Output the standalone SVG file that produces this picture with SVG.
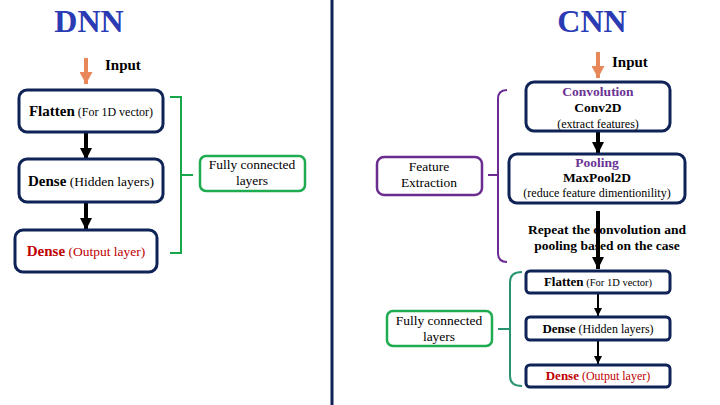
<svg xmlns="http://www.w3.org/2000/svg" width="720" height="405" viewBox="0 0 720 405">
<style>
text{font-family:"Liberation Serif","DejaVu Serif","Noto Serif",serif;fill:#000}
.title{font-size:32px;font-weight:bold;fill:#2a3bb4}
.b{font-weight:bold}
.box{fill:#fff;stroke:#0f2356;stroke-width:3}
.red{fill:#c00000}
.pur{fill:#6b3494;font-weight:bold}
.blk{stroke:#000;fill:none}
</style>
<defs>
<marker id="ah" markerUnits="userSpaceOnUse" markerWidth="14" markerHeight="12" refX="12" refY="6" orient="auto"><path d="M0,0L12,6L0,12z" fill="#000"/></marker>
<marker id="ahs" markerUnits="userSpaceOnUse" markerWidth="9" markerHeight="8" refX="8" refY="4" orient="auto"><path d="M0,0L8,4L0,8z" fill="#000"/></marker>
<marker id="aho" markerUnits="userSpaceOnUse" markerWidth="14" markerHeight="13" refX="12" refY="6.5" orient="auto"><path d="M0,0L12,6.5L0,13z" fill="#e8875a"/></marker>
</defs>
<rect width="720" height="405" fill="#fff"/>
<line x1="332" y1="0" x2="332" y2="405" stroke="#0f2356" stroke-width="3"/>
<text class="title" x="89" y="32" text-anchor="middle" font-family="Liberation Serif, serif">DNN</text>
<text class="title" x="592" y="32" text-anchor="middle">CNN</text>

<g id="connectors">
<line x1="86" y1="58" x2="86" y2="84" stroke="#e8875a" stroke-width="4" marker-end="url(#aho)"/>
<line x1="598" y1="52" x2="598" y2="78" stroke="#e8875a" stroke-width="4" marker-end="url(#aho)"/>
<line class="blk" x1="86" y1="132" x2="86" y2="160" stroke-width="4" marker-end="url(#ah)"/>
<line class="blk" x1="86" y1="202" x2="86" y2="230" stroke-width="4" marker-end="url(#ah)"/>
<line class="blk" x1="598" y1="132" x2="598" y2="154" stroke-width="4" marker-end="url(#ah)"/>
<line class="blk" x1="598" y1="211" x2="598" y2="269" stroke-width="4" marker-end="url(#ah)"/>
<line class="blk" x1="598" y1="294" x2="598" y2="316" stroke-width="2" marker-end="url(#ahs)"/>
<line class="blk" x1="598" y1="341" x2="598" y2="364" stroke-width="2" marker-end="url(#ahs)"/>
<path d="M170,97H181V253H170M181,175H193" fill="none" stroke="#18a64a" stroke-width="2"/>
<path d="M507,90Q498,90 498,99V253Q498,262 507,262M498,175H488" fill="none" stroke="#6a2c91" stroke-width="2"/>
<path d="M522,272Q510,272 510,282V376Q510,386 522,386M510,329H498" fill="none" stroke="#2a9472" stroke-width="2"/>
</g>

<text class="b" x="105" y="70" font-size="15">Input</text>
<text class="b" x="612" y="67" font-size="15">Input</text>

<g id="dnn-flatten">
<rect class="box" x="19" y="90" width="144" height="42" rx="8"/>
<text x="91" y="116" text-anchor="middle"><tspan class="b" font-size="15">Flatten</tspan><tspan font-size="12"> (For 1D vector)</tspan></text>
</g>
<g id="dnn-dense-hidden">
<rect class="box" x="19" y="159" width="144" height="43" rx="8"/>
<text x="91" y="186" text-anchor="middle"><tspan class="b" font-size="15">Dense</tspan><tspan font-size="13.5"> (Hidden layers)</tspan></text>
</g>
<g id="dnn-dense-output">
<rect class="box" x="15" y="230" width="142" height="42" rx="8"/>
<text x="86" y="256" text-anchor="middle" class="red"><tspan class="b red" font-size="15">Dense</tspan><tspan class="red" font-size="13.5"> (Output layer)</tspan></text>
</g>
<g id="dnn-fc">
<rect x="200" y="156" width="105" height="35" rx="6" fill="#fff" stroke="#1fab4f" stroke-width="2.5"/>
<text x="252" y="169" text-anchor="middle" font-size="13.5">Fully connected</text>
<text x="252" y="185" text-anchor="middle" font-size="13.5">layers</text>
</g>

<g id="cnn-conv">
<rect class="box" x="526" y="82" width="144" height="49" rx="8"/>
<text x="598" y="96" text-anchor="middle" class="pur" font-size="13.5">Convolution</text>
<text x="598" y="112" text-anchor="middle" class="b" font-size="13.5">Conv2D</text>
<text x="598" y="128" text-anchor="middle" font-size="12">(extract features)</text>
</g>
<g id="cnn-pool">
<rect class="box" x="509" y="154" width="176" height="49" rx="8"/>
<text x="597" y="167" text-anchor="middle" class="pur" font-size="13.5">Pooling</text>
<text x="597" y="182" text-anchor="middle" class="b" font-size="13.5">MaxPool2D</text>
<text x="597" y="197" text-anchor="middle" font-size="12">(reduce feature dimentionility)</text>
</g>
<g id="cnn-repeat">
<text x="607" y="234" text-anchor="middle" class="b" font-size="13.5">Repeat the convolution and</text>
<text x="607" y="250" text-anchor="middle" class="b" font-size="13.5">pooling based on the case</text>
</g>
<g id="cnn-feature">
<rect x="377" y="157" width="105" height="38" rx="7" fill="#fff" stroke="#6a2c91" stroke-width="2.5"/>
<text x="429" y="171" text-anchor="middle" font-size="13.5">Feature</text>
<text x="429" y="187" text-anchor="middle" font-size="13.5">Extraction</text>
</g>
<g id="cnn-flatten">
<rect class="box" x="526" y="271" width="144" height="22" rx="4" stroke-width="2.5"/>
<text x="598" y="286" text-anchor="middle"><tspan class="b" font-size="13">Flatten</tspan><tspan font-size="10.5"> (For 1D vector)</tspan></text>
</g>
<g id="cnn-dense-hidden">
<rect class="box" x="526" y="317" width="144" height="23" rx="4" stroke-width="2.5"/>
<text x="598" y="333" text-anchor="middle"><tspan class="b" font-size="13">Dense</tspan><tspan font-size="12"> (Hidden layers)</tspan></text>
</g>
<g id="cnn-dense-output">
<rect class="box" x="526" y="365" width="144" height="22" rx="4" stroke-width="2.5"/>
<text x="598" y="380" text-anchor="middle"><tspan class="b red" font-size="13">Dense</tspan><tspan class="red" font-size="12"> (Output layer)</tspan></text>
</g>
<g id="cnn-fc">
<rect x="387" y="311" width="105" height="35" rx="6" fill="#fff" stroke="#1fab4f" stroke-width="2.5"/>
<text x="439" y="325" text-anchor="middle" font-size="13.5">Fully connected</text>
<text x="439" y="341" text-anchor="middle" font-size="13.5">layers</text>
</g>
</svg>
